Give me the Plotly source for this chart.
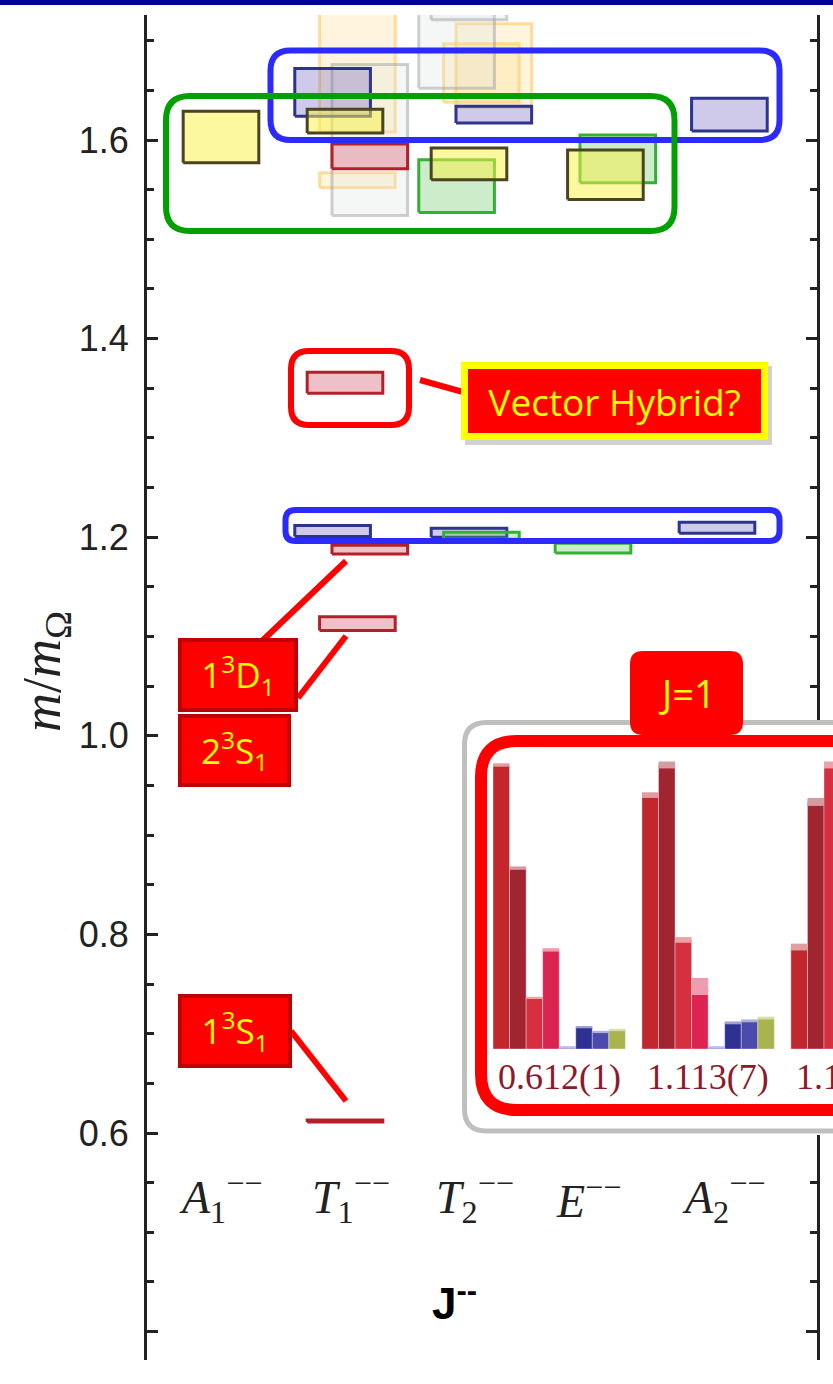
import plotly.graph_objects as go

W, H = 833, 1384

# ---------------- data ----------------
category_labels = ["<i>A</i><sub>1</sub><sup>−−</sup>", "<i>T</i><sub>1</sub><sup>−−</sup>",
                   "<i>T</i><sub>2</sub><sup>−−</sup>", "<i>E</i><sup>−−</sup>",
                   "<i>A</i><sub>2</sub><sup>−−</sup>"]
category_label_pos = [0.0, 1.05, 2.05, 2.96, 4.06]

# spectrum levels: irrep index, horizontal slot, kind, lower/upper edge (m/m_Omega)
level_cat  = [1, 1, 2, 2,   1, 2, 2,   1, 1, 2, 2, 4, 4,   1, 1, 1, 1, 1,   2, 2, 3, 3,   0, 1, 2, 3]
level_slot = [1, 1, 1, 2,   2, -1, 0,  -1, -1, 0, 2, 0, 1,  0, 1, 2, 0, 2,   1, -1, 0, 2,  0, 0, 0, 1]
level_kind = ["orange"] * 4 + ["gray"] * 3 + ["J3"] * 6 + ["J1"] * 5 + ["J2"] * 4 + ["J4"] * 4
level_lo   = [1.608, 1.552, 1.638, 1.633,   1.524, 1.652, 1.721,
              1.2006, 1.624, 1.200, 1.617, 1.204, 1.609,
              0.611, 1.106, 1.183, 1.345, 1.571,
              1.198, 1.527, 1.184, 1.557,
              1.577, 1.607, 1.560, 1.540]
level_hi   = [1.800, 1.567, 1.697, 1.717,   1.676, 1.800, 1.800,
              1.2117, 1.672, 1.209, 1.634, 1.215, 1.642,
              0.613, 1.120, 1.192, 1.366, 1.596,
              1.205, 1.580, 1.194, 1.605,
              1.629, 1.631, 1.592, 1.590]

y_major = [0.4, 0.6, 0.8, 1.0, 1.2, 1.4, 1.6]
y_major_text = ["", "0.6", "0.8", "1.0", "1.2", "1.4", "1.6"]
y_minor = [0.45, 0.5, 0.55, 0.65, 0.7, 0.75, 0.85, 0.9, 0.95, 1.05, 1.1, 1.15,
           1.25, 1.3, 1.35, 1.45, 1.5, 1.55, 1.65, 1.7]

# inset: operator overlaps for the first J=1 states
inset_labels = ["0.612(1)", "1.113(7)", "1.1"]
inset_vals = [[1.0, 0.637, 0.18, 0.349, 0.007, 0.077, 0.060, 0.067],
              [0.894, 1.0, 0.384, 0.22, 0.007, 0.092, 0.099, 0.109],
              [0.359, 0.87, 1.0]]
inset_err = [[0.006, 0.006, 0.004, 0.006, 0.003, 0.004, 0.004, 0.004],
             [0.010, 0.012, 0.010, 0.030, 0.003, 0.005, 0.005, 0.005],
             [0.012, 0.014, 0.012]]
inset_colors = ["#c1272d", "#a12530", "#d62f40", "#dc2450", "#6b6bd6", "#2e3192", "#4b4bab", "#a9b44f"]

# ---------------- geometry / styles ----------------
X0PX, XU = 221.0, 124.0           # px of x=0, px per x unit
Y16PX, YU = 140.0, 993.0          # px of y=1.6, px per y unit
PLOT_L, PLOT_R, PLOT_T, PLOT_B = 147, 818, 15, 1360
BOXW = 0.61

def px_x(p): return (p - X0PX) / XU
def px_y(p): return 1.6 - (p - Y16PX) / YU
def PX(p): return p / W
def PY(p): return 1 - p / H

styles = {
    "J1": dict(line="#b3202a", fill="rgba(215,90,110,0.38)"),
    "J2": dict(line="#34b034", fill="rgba(90,195,80,0.30)"),
    "J3": dict(line="#2c3490", fill="rgba(110,95,190,0.33)"),
    "J4": dict(line="#4a4520", fill="rgba(248,242,70,0.52)"),
    "orange": dict(line="rgba(255,195,80,0.55)", fill="rgba(255,205,90,0.20)"),
    "gray": dict(line="rgba(160,160,160,0.50)", fill="rgba(215,225,225,0.25)"),
}

fig = go.Figure()

for c, s, k, lo, hi in zip(level_cat, level_slot, level_kind, level_lo, level_hi):
    xc = c + 0.1 * s
    xa, xb = xc - BOXW / 2, xc + BOXW / 2
    st = styles[k]
    fig.add_trace(go.Scatter(x=[xa, xb, xb, xa, xa], y=[lo, lo, hi, hi, lo], mode="lines",
                             fill="toself", fillcolor=st["fill"],
                             line=dict(color=st["line"], width=3),
                             showlegend=False, hoverinfo="skip", xaxis="x", yaxis="y"))

# dummy traces to activate the right-hand axis segments
for ya in ["y3", "y4"]:
    fig.add_trace(go.Scatter(x=[None], y=[None], xaxis="x", yaxis=ya, showlegend=False, hoverinfo="skip"))

def pale(hexc, f=0.55):
    r, g, b = int(hexc[1:3], 16), int(hexc[3:5], 16), int(hexc[5:7], 16)
    return "rgb(%d,%d,%d)" % (r + (255 - r) * f, g + (255 - g) * f, b + (255 - b) * f)

for g, (vals, errs) in enumerate(zip(inset_vals, inset_err)):
    xs = [g * 9 + i for i in range(len(vals))]
    cols = inset_colors[:len(vals)]
    fig.add_trace(go.Bar(x=xs, y=vals, width=1.0, marker=dict(color=cols, line=dict(color="rgba(255,255,255,0.6)", width=0.6)),
                         xaxis="x2", yaxis="y2", showlegend=False, hoverinfo="skip"))
    fig.add_trace(go.Bar(x=xs, y=[2 * e for e in errs], base=[v - e for v, e in zip(vals, errs)], width=1.0,
                         marker=dict(color=[pale(c) for c in cols], line=dict(width=0)),
                         xaxis="x2", yaxis="y2", showlegend=False, hoverinfo="skip"))

# ---------------- decorations ----------------
def rrect(x0, y0, x1, y1, r):
    return (f"M {PX(x0+r)},{PY(y0)} L {PX(x1-r)},{PY(y0)} Q {PX(x1)},{PY(y0)} {PX(x1)},{PY(y0+r)} "
            f"L {PX(x1)},{PY(y1-r)} Q {PX(x1)},{PY(y1)} {PX(x1-r)},{PY(y1)} "
            f"L {PX(x0+r)},{PY(y1)} Q {PX(x0)},{PY(y1)} {PX(x0)},{PY(y1-r)} "
            f"L {PX(x0)},{PY(y0+r)} Q {PX(x0)},{PY(y0)} {PX(x0+r)},{PY(y0)} Z")

shapes = []
def frame(x0, y0, x1, y1, r, color, w, fill=None):
    d = dict(type="path", path=rrect(x0, y0, x1, y1, r), xref="paper", yref="paper",
             line=dict(color=color, width=w), layer="above")
    if fill:
        d["fillcolor"] = fill
    shapes.append(d)

def seg(x0, y0, x1, y1, color="#ff0000", w=6):
    shapes.append(dict(type="line", x0=PX(x0), y0=PY(y0), x1=PX(x1), y1=PY(y1), xref="paper", yref="paper",
                       line=dict(color=color, width=w), layer="above"))

shapes.append(dict(type="rect", x0=0, x1=1, y0=PY(5), y1=1, xref="paper", yref="paper",
                   fillcolor="#00009a", line=dict(width=0), layer="above"))
frame(270.5, 50.5, 779.5, 140, 20, "#2b2bff", 6)
frame(166, 96, 674.5, 231, 24, "#00a000", 6)
frame(285.5, 510, 779.5, 541, 10, "#2b2bff", 6)
frame(291, 351, 409, 425, 18, "#ff0000", 6)
seg(420, 380, 463, 392)
seg(346, 561, 263, 640)
seg(346, 636, 298, 698)
seg(291, 1031, 346, 1101)
frame(464.5, 722.5, 880, 1131, 22, "#bfbfbf", 5)
frame(481, 741, 900, 1110, 36, "#ff0000", 12)
frame(630, 651, 743, 735, 13, "rgba(0,0,0,0)", 0, fill="#ff0000")
shapes.append(dict(type="rect", x0=PX(465), x1=PX(772), y0=PY(366), y1=PY(445), xref="paper", yref="paper",
                   fillcolor="rgba(0,0,0,0.18)", line=dict(width=0), layer="above"))

annotations = []
def ann(**kw):
    kw.setdefault("showarrow", False)
    kw.setdefault("xanchor", "center")
    kw.setdefault("yanchor", "middle")
    annotations.append(kw)

for lab, xp in zip(category_labels, category_label_pos):
    ann(x=xp, y=0.535, xref="x", yref="y", text=lab,
        font=dict(family="Liberation Serif", size=46, color="#222"))

ann(x=PX(45), y=PY(672), xref="paper", yref="paper", textangle=-90,
    text="<i>m</i>/<i>m</i><sub>Ω</sub>", font=dict(family="Liberation Serif", size=54, color="#222"))
ann(x=PX(455), y=PY(1300), xref="paper", yref="paper", text="<b>J<sup>--</sup></b>",
    font=dict(family="Liberation Sans", size=44, color="#000"))

ann(x=PX(614.5), y=PY(401), xref="paper", yref="paper", text="Vector Hybrid?",
    width=293, height=64, bgcolor="#ff0000", bordercolor="#ffff00",
    borderwidth=7, borderpad=0, font=dict(family="Open Sans", size=37, color="#ffff00"))
for txt, cx, cy, w_, h_ in [("1<sup>3</sup>D<sub>1</sub>", 238, 675, 112, 66),
                            ("2<sup>3</sup>S<sub>1</sub>", 234.5, 750.5, 105, 65),
                            ("1<sup>3</sup>S<sub>1</sub>", 235, 1031, 106, 66)]:
    ann(x=PX(cx), y=PY(cy), xref="paper", yref="paper", text=txt,
        width=w_, height=h_, bgcolor="#ff0000", bordercolor="#c00000", borderwidth=4,
        borderpad=0, font=dict(family="Open Sans", size=35, color="#ffff00"))
ann(x=PX(686.5), y=PY(693), xref="paper", yref="paper", text="J=1",
    font=dict(family="Open Sans", size=38, color="#ffff00"))

for g, lab in enumerate(inset_labels):
    if g < 2:
        ann(x=g * 9 + 3.5, y=PY(1077), xref="x2", yref="paper", text=lab,
            font=dict(family="Liberation Serif", size=36, color="#8b1a2a"))
    else:
        ann(x=g * 9 - 0.3, y=PY(1077), xref="x2", yref="paper", text=lab, xanchor="left",
            font=dict(family="Liberation Serif", size=36, color="#8b1a2a"))

axis_common = dict(showgrid=False, zeroline=False, fixedrange=True)
ytick_common = dict(showline=True, linewidth=3, linecolor="#222", ticks="inside", ticklen=11, tickwidth=3,
                    tickcolor="#222", tickmode="array", tickvals=y_major,
                    minor=dict(tickmode="array", tickvals=y_minor, ticks="inside", ticklen=7, tickwidth=2.5,
                               tickcolor="#222"))

fig.update_layout(
    width=W, height=H, margin=dict(l=0, r=0, t=0, b=0),
    paper_bgcolor="white", plot_bgcolor="rgba(0,0,0,0)",
    showlegend=False, barmode="overlay",
    xaxis=dict(domain=[PX(PLOT_L), PX(PLOT_R)], range=[px_x(PLOT_L), px_x(PLOT_R)], visible=False, **axis_common),
    yaxis=dict(domain=[PY(PLOT_B), PY(PLOT_T)], range=[px_y(PLOT_B), px_y(PLOT_T)], ticktext=y_major_text,
               ticklabelstandoff=8, tickfont=dict(family="Liberation Sans", size=36, color="#222"),
               **ytick_common, **axis_common),
    yaxis3=dict(domain=[PY(720), PY(PLOT_T)], range=[px_y(720), px_y(PLOT_T)], anchor="free",
                position=PX(PLOT_R), side="right", showticklabels=False, **ytick_common, **axis_common),
    yaxis4=dict(domain=[PY(PLOT_B), PY(1135)], range=[px_y(PLOT_B), px_y(1135)], anchor="free",
                position=PX(PLOT_R), side="right", showticklabels=False, **ytick_common, **axis_common),
    xaxis2=dict(domain=[PX(493), 1.0], range=[-0.5, (833 - 493) / 16.55 - 0.5], anchor="y2", visible=False, **axis_common),
    yaxis2=dict(domain=[PY(1049), PY(1049 - 1.04 * 284)], range=[0, 1.04], anchor="x2", visible=False, **axis_common),
    shapes=shapes, annotations=annotations,
)

fig.write_html("out.html", config={"displayModeBar": False},
               post_script="document.body.style.margin='0px';document.body.style.overflow='hidden';")
